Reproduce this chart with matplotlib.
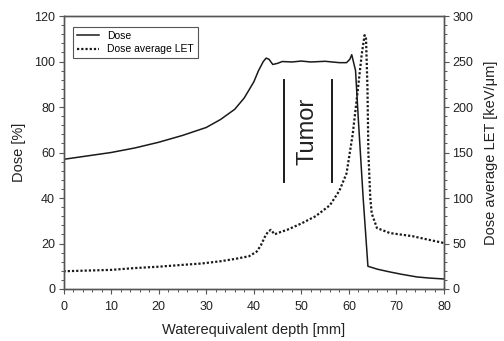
import numpy as np
import matplotlib
matplotlib.use('Agg')
import matplotlib.pyplot as plt
from matplotlib.lines import Line2D
from matplotlib.ticker import MultipleLocator

plt.rcParams['font.family'] = ['Liberation Sans', 'DejaVu Sans']

# depth-dose curve (left axis)
dose_depth = [0, 5, 10, 15, 20, 25, 30, 33, 36, 38, 40, 41, 42, 42.6, 43.2, 44, 45, 46,
              48, 50, 52, 55, 57, 58, 59.5, 60.2, 60.6, 61, 61.4, 62, 63, 64,
              66, 68.6, 71, 74.3, 77, 80]
dose = [57, 58.5, 60, 62, 64.5, 67.5, 71, 74.5, 79, 84, 91, 96, 100, 101.5, 101, 98.7, 99.2, 100,
        99.8, 100.2, 99.8, 100.1, 99.7, 99.5, 99.5, 101, 103, 99.5, 96, 74, 40, 10,
        8.7, 7.5, 6.5, 5.3, 4.8, 4.4]

# dose average LET (right axis)
let_depth = [0, 10, 15, 20, 25, 29, 33, 36, 39, 40.6, 41.5, 42.3, 43, 43.6, 44.4, 45, 47,
             50, 53, 56, 58, 59.5, 60.8, 61.9, 62.7, 63.3, 63.6, 63.9, 64.1, 64.5, 64.8,
             65.9, 68.6, 73.4, 76, 80]
let = [19.5, 21, 23, 24.5, 26.5, 28, 30.5, 33, 36, 41, 48, 57, 63, 65, 60, 61.5, 65,
       72, 80, 92, 108, 127, 170, 220, 258, 279, 275, 222, 149, 100, 83,
       67, 61.5, 58, 55, 50.5]

tumor_x = [46.3, 56.4]
tumor_y = [47, 92]

gray = '#555555'
txt = '#222222'

fig = plt.figure(figsize=(5.04, 3.41), dpi=100)
ax = fig.add_axes([0.126, 0.1525, 0.755, 0.8005])
ax2 = ax.twinx()

ax.plot(dose_depth, dose, color='#1a1a1a', lw=1.1)
ax2.plot(let_depth, let, color='#1a1a1a', lw=1.6, linestyle=(0, (1, 0.9)))

for xv in tumor_x:
    ax.plot([xv, xv], tumor_y, color='#1a1a1a', lw=1.4)
ax.text(sum(tumor_x) / 2, sum(tumor_y) / 2, 'Tumor', rotation=90, fontsize=17,
        ha='center', va='center', color=txt)

ax.set_xlim(0, 80)
ax.set_ylim(0, 120)
ax2.set_ylim(0, 300)
ax.xaxis.set_major_locator(MultipleLocator(10))
ax.xaxis.set_minor_locator(MultipleLocator(2))
ax.yaxis.set_major_locator(MultipleLocator(20))
ax.yaxis.set_minor_locator(MultipleLocator(4))
ax2.yaxis.set_major_locator(MultipleLocator(50))
ax2.yaxis.set_minor_locator(MultipleLocator(10))

for a in (ax, ax2):
    for sp in a.spines.values():
        sp.set_color(gray)
        sp.set_linewidth(1.0)
    a.tick_params(which='major', length=3.5, width=0.8, color=gray, labelsize=9,
                  labelcolor=txt, pad=2.5)
    a.tick_params(which='minor', length=2, width=0.7, color=gray)
ax.tick_params(axis='x', which='major', pad=5)

ax.set_xlabel('Waterequivalent depth [mm]', fontsize=10.5, color=txt, labelpad=7)
ax.set_ylabel('Dose [%]', fontsize=10.5, color=txt, labelpad=6)
ax2.set_ylabel('Dose average LET [keV/\u03bcm]', fontsize=10.5, color=txt, labelpad=8)

handles = [Line2D([], [], color='#1a1a1a', lw=1.1),
           Line2D([], [], color='#1a1a1a', lw=1.6, linestyle=(0, (1, 0.9)))]
leg = ax.legend(handles, ['Dose', 'Dose average LET'], loc='upper left',
                bbox_to_anchor=(0.025, 0.96), borderaxespad=0, fontsize=7.5,
                fancybox=False, framealpha=1, edgecolor=gray, handlelength=2.1,
                labelspacing=0.3)
leg.get_frame().set_linewidth(0.8)

fig.savefig('out.png', dpi=100)
